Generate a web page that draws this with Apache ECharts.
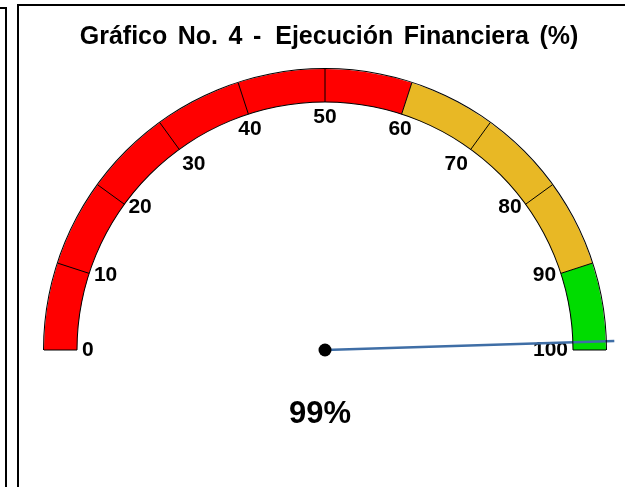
<!DOCTYPE html>
<html>
<head>
<meta charset="utf-8">
<script src="https://cdn.jsdelivr.net/npm/echarts@6/dist/echarts.min.js"></script>
<style>
html,body{margin:0;padding:0;background:#fff;}
#chart{width:625px;height:487px;}
</style>
</head>
<body>
<div id="chart"></div>
<script>
const titleText = 'Gráfico No. 4 -  Ejecución Financiera (%)';
const gaugeMin = 0;
const gaugeMax = 100;
const gaugeSplits = 10;
const bandEnds = [60, 90, 100];
const bandColors = ['#ff0000', '#e8b825', '#00dc00'];
const executionValue = [99];

const FONT = "'Liberation Sans', Arial, sans-serif";
const cx = 325, cy = 350, R = 281, BAND = 33;

const chart = echarts.init(document.getElementById('chart'), null, {renderer: 'canvas'});

const outline = (radius, z) => ({
  type: 'gauge', center: [cx, cy], radius: radius, startAngle: 180, endAngle: 0,
  min: gaugeMin, max: gaugeMax, z: z, silent: true,
  axisLine: {lineStyle: {width: 1, color: [[1, '#000']]}},
  axisTick: {show: false}, splitLine: {show: false}, axisLabel: {show: false},
  pointer: {show: false}, anchor: {show: false}, title: {show: false}, detail: {show: false},
  data: []
});

// the reference title uses slightly wider word spacing; spaces stay real spaces
const titleRich = titleText.replace(/ +/g, m => '{s' + m.length + '|' + m + '}');
const TFONT = "bold 25px " + FONT;

chart.setOption({
  backgroundColor: '#ffffff',
  animation: false,
  graphic: [
    {type: 'polyline', shape: {points: [[0, 8], [6, 8], [6, 490]]}, style: {stroke: '#000', lineWidth: 2, fill: null}},
    {type: 'polyline', shape: {points: [[630, 5], [18, 5], [18, 490]]}, style: {stroke: '#000', lineWidth: 2, fill: null}},
    {type: 'text', x: 329, y: 37, style: {
      text: titleRich, font: TFONT, fill: '#000', align: 'center', verticalAlign: 'middle',
      rich: {s1: {width: 10.5, font: TFONT}, s2: {width: 14, font: TFONT}}
    }}
  ],
  series: [
    {
      type: 'gauge', center: [cx, cy], radius: R, startAngle: 180, endAngle: 0,
      min: gaugeMin, max: gaugeMax, splitNumber: gaugeSplits, z: 2,
      axisLine: {lineStyle: {width: BAND, color: bandEnds.map((e, i) => [e / gaugeMax, bandColors[i]])}},
      axisTick: {show: false},
      splitLine: {show: true, length: BAND, distance: -BAND, lineStyle: {color: '#000', width: 1}},
      axisLabel: {show: true, distance: 38, color: '#000', fontSize: 21, fontWeight: 'bold', fontFamily: FONT},
      pointer: {show: true, icon: 'rect', length: '103%', width: 2.5, offsetCenter: [0, 0], itemStyle: {color: '#3f6ea6'}},
      anchor: {show: true, showAbove: true, size: 13, itemStyle: {color: '#000'}},
      title: {show: false},
      detail: {show: true, formatter: '{value}%', offsetCenter: [-5, 64], fontSize: 31, fontWeight: 'bold', color: '#000', fontFamily: FONT},
      data: executionValue.map(v => ({value: v}))
    },
    outline(R + 1, 3),
    outline(R - BAND + 0.5, 3)
  ]
});
</script>
</body>
</html>
